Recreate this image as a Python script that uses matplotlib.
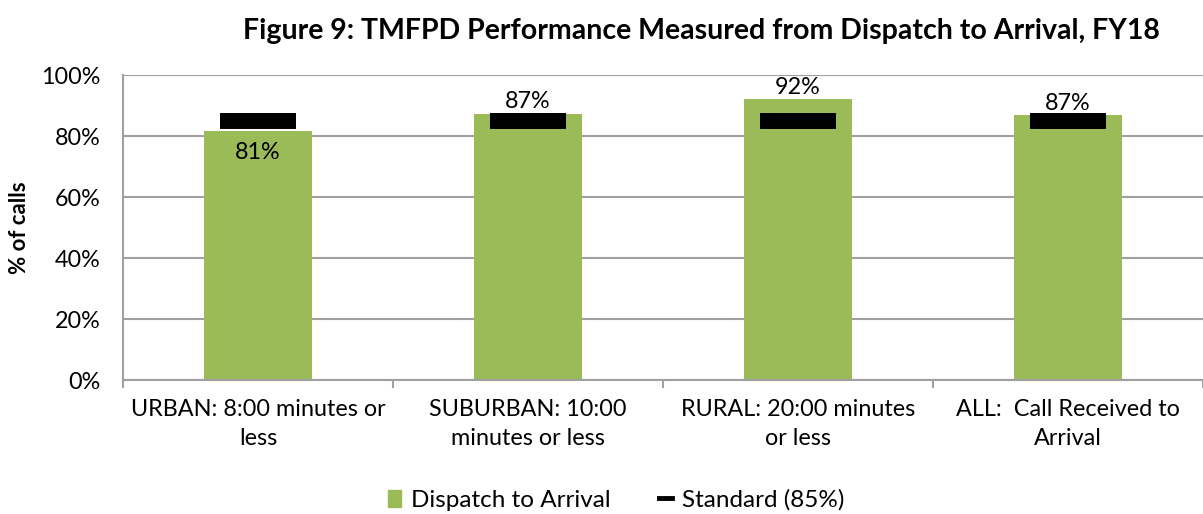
import numpy as np
import matplotlib.pyplot as plt
from matplotlib.lines import Line2D
from matplotlib.patches import Patch

plt.rcParams['font.family'] = ['Lato', 'DejaVu Sans']

categories = ['URBAN: 8:00 minutes or\nless', 'SUBURBAN: 10:00\nminutes or less',
              'RURAL: 20:00 minutes\nor less', 'ALL:  Call Received to\nArrival']
dispatch = [81.6, 87.3, 92.1, 86.8]
labels = ['81%', '87%', '92%', '87%']
standard = [85, 85, 85, 85]

green = '#9BBB59'
fs = 16.8

fig = plt.figure(figsize=(12.03, 5.14), dpi=100)
ax = fig.add_axes([0.1022, 0.2607, 0.8978, 0.5933])

x = np.arange(len(categories))
ax.bar(x, dispatch, width=0.4, color=green, zorder=2)

# standard markers as thick short dashes
for xi, s in zip(x, standard):
    ax.plot([xi - 0.14, xi + 0.14], [s, s], color='black', lw=11.5, solid_capstyle='butt', zorder=3)

for i, (xi, v, t) in enumerate(zip(x, dispatch, labels)):
    if i == 0:
        ax.text(xi, v - 3.5, t, ha='center', va='top', fontsize=fs, zorder=4)
    else:
        ax.text(xi, v + 0.5, t, ha='center', va='bottom', fontsize=fs, zorder=4)

ax.set_xlim(-0.5, len(categories) - 0.5)
ax.set_ylim(0, 100)
ax.set_yticks(np.arange(0, 101, 20))
ax.set_yticklabels([f'{v}%' for v in range(0, 101, 20)], fontsize=fs)
ax.yaxis.grid(True, color='#A0A0A0', lw=1.5, zorder=0)
ax.set_axisbelow(True)

ax.set_xticks(x)
ax.set_xticklabels(categories, fontsize=fs, linespacing=1.42)
ax.set_xticks(np.arange(-0.5, len(categories) + 0.5, 1), minor=True)
ax.tick_params(axis='x', which='major', length=0, pad=14)
ax.tick_params(axis='x', which='minor', length=6, color='#A0A0A0', width=1.5)
ax.tick_params(axis='y', length=0, pad=16)

for side in ['top', 'right']:
    ax.spines[side].set_visible(False)
ax.spines['left'].set_color('#A0A0A0')
ax.spines['bottom'].set_color('#A0A0A0')
ax.spines['left'].set_linewidth(1.5)
ax.spines['bottom'].set_linewidth(1.5)

ax.set_ylabel('% of calls', fontsize=16, fontweight='bold', labelpad=8)

fig.text(0.583, 0.94, 'Figure 9: TMFPD Performance Measured from Dispatch to Arrival, FY18',
         ha='center', va='center', fontsize=20.5, fontweight='bold')

handles = [Patch(color=green, label='Dispatch to Arrival'),
           Line2D([0], [0], color='black', lw=3.5, label='Standard (85%)')]
fig.legend(handles=handles, loc='center', bbox_to_anchor=(0.512, 0.027), ncol=2, frameon=False,
           fontsize=17.5, handlelength=0.55, handleheight=0.7, columnspacing=2.0, handletextpad=0.4)

fig.savefig('out.png', dpi=100)
